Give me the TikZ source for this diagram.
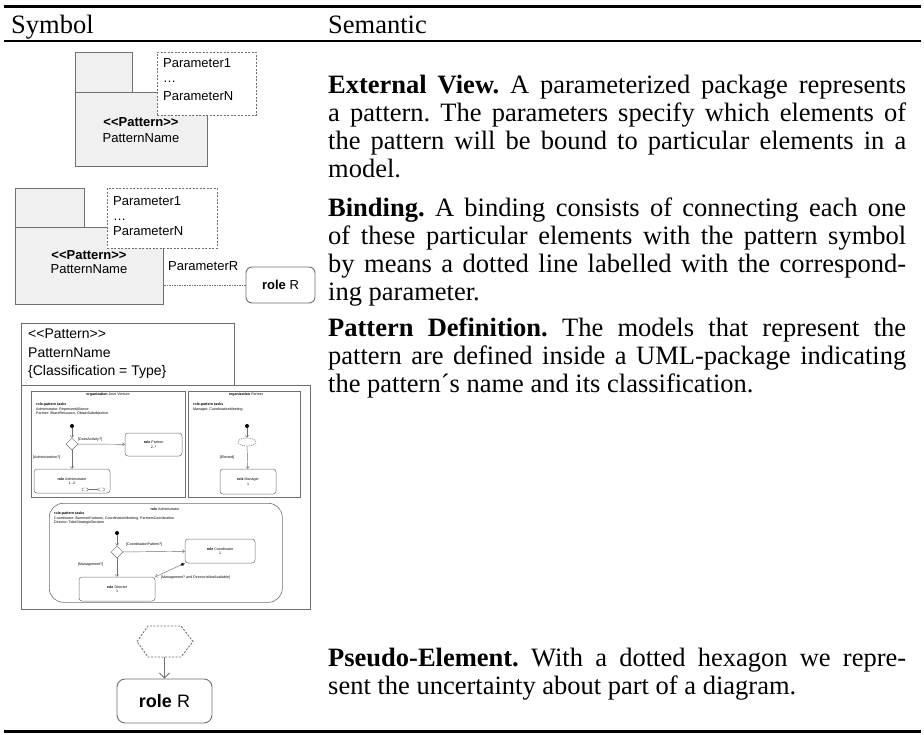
\documentclass[tikz,border=0pt]{standalone}
\usepackage{fontspec}
\setmainfont{Liberation Serif}
\newfontfamily\umlfont{Liberation Sans}
\usetikzlibrary{arrows.meta,shapes.geometric}
\definecolor{pkgfill}{HTML}{F0F0F0}
\definecolor{umlgray}{HTML}{707070}
\frenchspacing
\newcommand\tinyuml{\umlfont\fontsize{3.6}{4.4}\selectfont}
\newcommand\semtext[1]{\parbox[t]{578pt}{\fontsize{26.5}{28}\selectfont #1}}
\tikzset{
  tablerule/.style={line width=3pt},
  headrule/.style={line width=2.2pt},
  pkgbox/.style={draw=umlgray, fill=pkgfill, line width=0.9pt, inner sep=0, anchor=north west},
  paramlist/.style={draw=umlgray, fill=white, dash pattern=on 2pt off 1.5pt, line width=0.9pt, inner sep=0, anchor=north west},
  plainbox/.style={draw=umlgray, line width=0.9pt, inner sep=0, anchor=north west},
  thinbox/.style={draw=umlgray, line width=0.6pt, inner sep=0, anchor=north west},
  rolebox/.style={draw=umlgray, fill=white, rounded corners=6pt, line width=0.9pt, inner sep=0, align=center},
  minirole/.style={draw=umlgray, fill=white, rounded corners=3pt, line width=0.5pt, inner sep=0, align=center, font=\tinyuml},
  umllabel/.style={font=\umlfont\fontsize{13}{15}\selectfont, inner sep=0},
  pdlabel/.style={font=\umlfont\fontsize{14}{18}\selectfont, inner sep=0, anchor=base west},
  tinylabel/.style={font=\tinyuml, inner sep=0},
  initdot/.style={circle, fill=black, inner sep=0, minimum size=4pt},
  decision/.style={diamond, draw=umlgray, fill=white, line width=0.5pt, inner sep=0, minimum width=12pt, minimum height=12pt},
  miniflow/.style={draw=umlgray, line width=0.45pt, -{Straight Barb[length=2pt,width=3.5pt]}},
  bigflow/.style={draw=umlgray, line width=0.9pt, -{Straight Barb[length=5pt,width=10pt]}},
  semantic/.style={inner sep=0, anchor=base west},
}
\begin{document}
\begin{tikzpicture}[x=1pt,y=-1pt]
\path[use as bounding box, fill=white] (0,0) rectangle (924,734);

% table rules and header
\draw[tablerule] (4,6.5) -- (921,6.5);
\draw[headrule] (4,40.7) -- (921,40.7);
\draw[tablerule] (4,731.5) -- (921,731.5);
\node[semantic, font=\fontsize{26.5}{28}\selectfont] (hsym) at (11,33) {Symbol};
\node[semantic, font=\fontsize{26.5}{28}\selectfont] (hsem) at (328,33) {Semantic};

% ---------- external view ----------
\node[pkgbox, minimum width=57, minimum height=40] (ev-tab) at (75,52) {};
\node[pkgbox, minimum width=132, minimum height=74] (ev-body) at (75,92) {};
\node[paramlist, minimum width=99, minimum height=63] (ev-par) at (157,52) {};
\node[umllabel, anchor=base west] (ev-p1) at (163,67) {Parameter1};
\node[umllabel, anchor=base west] (ev-dots) at (163,82) {\ldots};
\node[umllabel, anchor=base west] (ev-pn) at (163,100) {ParameterN};
\node[umllabel, anchor=base] (ev-st) at (141,126) {\textbf{<{}<Pattern>{}>}};
\node[umllabel, anchor=base] (ev-name) at (141,142) {PatternName};

\node[semantic] (ev-text) at (328,93) {\semtext{\textbf{External View.} A parameterized package represents\linebreak
a pattern. The parameters specify which elements of\linebreak
the pattern will be bound to particular elements in a\linebreak
model.}};

% ---------- binding ----------
\node[pkgbox, minimum width=69, minimum height=39] (bd-tab) at (15,188) {};
\node[pkgbox, minimum width=148, minimum height=77] (bd-body) at (15,227) {};
\node[paramlist, minimum width=110, minimum height=60] (bd-par) at (107,188) {};
\node[umllabel, anchor=base west] (bd-p1) at (113,205) {Parameter1};
\node[umllabel, anchor=base west] (bd-dots) at (113,220) {\ldots};
\node[umllabel, anchor=base west] (bd-pn) at (113,235) {ParameterN};
\node[umllabel, anchor=base] (bd-st) at (89,259) {\textbf{<{}<Pattern>{}>}};
\node[umllabel, anchor=base] (bd-name) at (89,273) {PatternName};
\node[rolebox, umllabel, draw=umlgray, rounded corners=6pt, minimum width=69, minimum height=36] (bd-role) at (280.5,285) {\textbf{role} R};
\draw[draw=umlgray, line width=0.8pt, dash pattern=on 1.5pt off 1pt] (bd-role.west) -- (bd-role.west -| bd-body.east);
\node[umllabel, anchor=base west] (bd-lab) at (168,270) {ParameterR};

\node[semantic] (bd-text) at (328,216) {\semtext{\textbf{Binding.} A binding consists of connecting each one\linebreak
of these particular elements with the pattern symbol\linebreak
by means a dotted line labelled with the correspond-\linebreak
ing parameter.}};

% ---------- pattern definition ----------
\node[plainbox, minimum width=213, minimum height=62] (pd-head) at (21,323) {};
\node[plainbox, minimum width=289, minimum height=224] (pd-body) at (21,385) {};
\node[pdlabel] (pd-st) at (28,338) {<{}<Pattern>{}>};
\node[pdlabel] (pd-name) at (28,357) {PatternName};
\node[pdlabel] (pd-class) at (28,375) {\{Classification = Type\}};

% organization Joint Venture
\node[thinbox, minimum width=154, minimum height=106] (jv) at (31,391) {};
\node[tinylabel] (jv-title) at (108,395) {\textbf{organization} Joint Venture};
\node[tinylabel, anchor=north west, align=left] (jv-tasks) at (36,403) {\textbf{role-pattern tasks}\\Administrator: RepresentAlliance\\Partner: ShareResource, ObtainSubobjective};
\node[initdot] (jv-init) at (72,426) {};
\node[decision] (jv-dec) at (72,444) {};
\node[minirole, minimum width=57, minimum height=23] (jv-partner) at (153.5,444.5) {\textbf{role} Partner\\2..*};
\node[minirole, minimum width=76, minimum height=24] (jv-admin) at (72,481) {\textbf{role} Administrator\\1..2};
\draw[miniflow] (jv-init) -- (jv-dec);
\draw[miniflow] (jv-dec) -- (jv-partner);
\draw[miniflow] (jv-dec) -- (jv-admin);
\node[tinylabel, anchor=base west] (jv-l1) at (78,440) {[DoesActivity?]};
\node[tinylabel, anchor=base west] (jv-l2) at (33,458) {[Administration?]};
\node[draw=umlgray, line width=0.4pt, rounded corners=1pt, inner sep=0, minimum width=6, minimum height=3] (jv-c1) at (85,489.5) {};
\node[draw=umlgray, line width=0.4pt, rounded corners=1pt, inner sep=0, minimum width=6, minimum height=3] (jv-c2) at (101.5,489.5) {};
\draw[draw=umlgray, line width=0.4pt] (jv-c1) -- (jv-c2);

% organization Partner
\node[thinbox, minimum width=112, minimum height=106] (pt) at (188,391) {};
\node[tinylabel] (pt-title) at (246,395) {\textbf{organization} Partner};
\node[tinylabel, anchor=north west, align=left] (pt-tasks) at (193,403) {\textbf{role-pattern tasks}\\Manager: CoordinationMeeting};
\node[initdot] (pt-init) at (247,426) {};
\node[ellipse, draw=umlgray, line width=0.5pt, dash pattern=on 1.2pt off 1pt, inner sep=0, minimum width=18, minimum height=8] (pt-pseudo) at (247,442) {};
\node[minirole, minimum width=56, minimum height=25] (pt-man) at (248,481.5) {\textbf{role} Manager\\1};
\draw[miniflow] (pt-init) -- (pt-pseudo);
\draw[miniflow] (pt-pseudo) -- (pt-man);
\node[tinylabel, anchor=base west] (pt-l1) at (220,458) {[Elected]};

% role Administrator
\node[thinbox, rounded corners=14pt, minimum width=233, minimum height=99] (ad) at (49,503) {};
\node[tinylabel] (ad-title) at (165,509) {\textbf{role} Administrator};
\node[tinylabel, anchor=north west, align=left] (ad-tasks) at (54,512) {\textbf{role-pattern tasks}\\Coordinator: SummonPartners, CoordinationMeeting, PartnersCoordination\\Director: TakeStrategicDecision};
\node[initdot] (ad-init) at (117,533) {};
\node[decision] (ad-dec) at (117,552) {};
\node[minirole, minimum width=70, minimum height=24] (ad-coord) at (220,551) {\textbf{role} Coordinator\\1};
\node[minirole, minimum width=76, minimum height=24] (ad-dir) at (117,589) {\textbf{role} Director\\1};
\draw[miniflow] (ad-init) -- (ad-dec);
\draw[miniflow] (ad-dec) -- (ad-coord);
\draw[miniflow] (ad-dec) -- (ad-dir);
\draw[draw=umlgray, line width=0.45pt, {Diamond[fill=black,length=5pt,width=3.5pt]}-{Straight Barb[length=2pt,width=3.5pt]}] (ad-coord.south west) -- (ad-dir.north east);
\node[tinylabel, anchor=base west] (ad-l1) at (126,545) {[CoordinationPattern?]};
\node[tinylabel, anchor=base west] (ad-l2) at (78,565) {[Management?]};
\node[tinylabel, anchor=base west] (ad-l3) at (161,578) {[Management? and DirectorIsNotAvailable]};

\node[semantic] (pd-text) at (328,336) {\semtext{\textbf{Pattern Definition.} The models that represent the\linebreak
pattern are defined inside a UML-package indicating\linebreak
the pattern´s name and its classification.}};

% ---------- pseudo-element ----------
\draw[draw=umlgray, line width=0.9pt, dash pattern=on 2pt off 1.5pt]
  (137,641.5) -- (148,626) -- (181,626) -- (193,641.5) -- (181,657) -- (148,657) -- cycle;
\coordinate (hex-bottom) at (164.5,657);
\node[rolebox, font=\umlfont\fontsize{18}{20}\selectfont, rounded corners=8pt, minimum width=95, minimum height=44] (ps-role) at (164.5,701) {\textbf{role} R};
\draw[bigflow] (hex-bottom) -- (ps-role);

\node[semantic] (ps-text) at (328,666) {\semtext{\textbf{Pseudo-Element.} With a dotted hexagon we repre-\linebreak
sent the uncertainty about part of a diagram.}};
\end{tikzpicture}
\end{document}
